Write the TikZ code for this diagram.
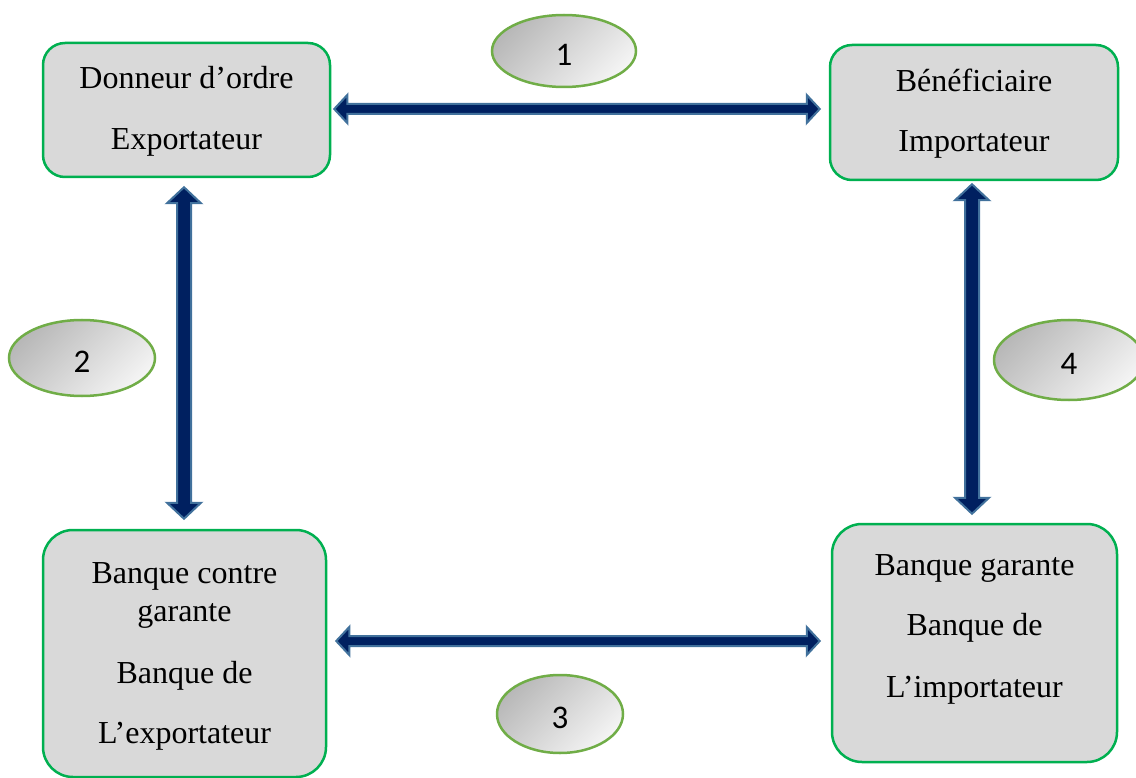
\documentclass[tikz,border=0pt]{standalone}
\usepackage{fontspec}
\setmainfont{Liberation Serif}
\newfontfamily\numfont{Carlito}
\usetikzlibrary{shapes.geometric,calc}
\definecolor{boxfill}{HTML}{D9D9D9}
\definecolor{boxedge}{HTML}{00B050}
\definecolor{elledge}{HTML}{70AD47}
\definecolor{navy}{HTML}{002060}
\definecolor{arrowedge}{HTML}{41719C}
\definecolor{shadedark}{HTML}{B8B8B8}
\definecolor{shadelight}{HTML}{F4F4F4}
\tikzset{
  box/.style={draw=boxedge, fill=boxfill, line width=2.5pt, rectangle, inner sep=0pt},
  lbl/.style={anchor=base, inner sep=0pt, font=\fontsize{32}{37}\selectfont},
  num/.style={draw=elledge, line width=2.5pt, ellipse, inner sep=0pt,
    top color=shadedark, bottom color=shadelight, shading angle=45,
    text height=29pt, text depth=0pt,
    font=\numfont\fontsize{33}{38}\selectfont},
  harrow/.style={draw=arrowedge, fill=navy, line width=2pt, line join=miter,
    to path={let \p1=(\tikztostart), \p2=(\tikztotarget) in
      (\x1,\y1) -- (\x1+13pt,\y1+14pt) -- (\x1+13pt,\y1+5pt) -- (\x2-13pt,\y1+5pt)
      -- (\x2-13pt,\y1+14pt) -- (\x2,\y1) -- (\x2-13pt,\y1-14pt) -- (\x2-13pt,\y1-5pt)
      -- (\x1+13pt,\y1-5pt) -- (\x1+13pt,\y1-14pt) -- cycle}},
  varrow/.style={draw=arrowedge, fill=navy, line width=2pt, line join=miter,
    to path={let \p1=(\tikztostart), \p2=(\tikztotarget) in
      (\x1,\y1) -- (\x1+17pt,\y1-16pt) -- (\x1+7pt,\y1-16pt) -- (\x1+7pt,\y2+16pt)
      -- (\x1+17pt,\y2+16pt) -- (\x1,\y2) -- (\x1-17pt,\y2+16pt) -- (\x1-7pt,\y2+16pt)
      -- (\x1-7pt,\y1-16pt) -- (\x1-17pt,\y1-16pt) -- cycle}}
}
\begin{document}
\begin{tikzpicture}[x=1pt,y=-1pt]
\useasboundingbox (0,0) rectangle (1136,778);
% boxes
\node[box, rounded corners=22pt, minimum width=287pt, minimum height=134pt] (do) at (186.5,110) {};
\node[box, rounded corners=22pt, minimum width=288pt, minimum height=135pt] (be) at (974,112.5) {};
\node[box, rounded corners=30pt, minimum width=283pt, minimum height=247pt] (bc) at (184.5,653.5) {};
\node[box, rounded corners=30pt, minimum width=285pt, minimum height=238pt] (bg) at (974.5,643) {};
% texts
\node[lbl] (t1) at (186.5,89) {Donneur d’ordre};
\node[lbl] (t2) at (186.5,150) {Exportateur};
\node[lbl] (t3) at (974,92) {Bénéficiaire};
\node[lbl] (t4) at (974,152) {Importateur};
\node[lbl] (t5) at (184.5,583) {Banque contre};
\node[lbl] (t6) at (184.5,621) {garante};
\node[lbl] (t7) at (184.5,683) {Banque de};
\node[lbl] (t8) at (184.5,743) {L’exportateur};
\node[lbl] (t9) at (974.5,575) {Banque garante};
\node[lbl] (t10) at (974.5,635) {Banque de};
\node[lbl] (t11) at (974.5,697) {L’importateur};
% arrows
\path[harrow] ([xshift=3pt,yshift=1pt]do.east) to ([xshift=-9pt]be.west);
\path[harrow] ([xshift=9pt,yshift=2pt]bc.east |- bg.west) to ([xshift=-11pt]bg.west);
\path[varrow] ([xshift=-2.5pt,yshift=-9pt]do.south) to ([yshift=10pt]bc.north);
\path[varrow] ([xshift=-2pt,yshift=-3pt]be.south) to ([yshift=9pt]bg.north);
% ellipses
\node[num, minimum width=144pt, minimum height=72pt] (e1) at (564,51) {1};
\node[num, minimum width=146pt, minimum height=76pt] (e2) at (82,358) {2};
\node[num, minimum width=126pt, minimum height=78pt] (e3) at (560,714) {3};
\node[num, minimum width=150pt, minimum height=80pt] (e4) at (1069,360) {4};
\end{tikzpicture}
\end{document}
